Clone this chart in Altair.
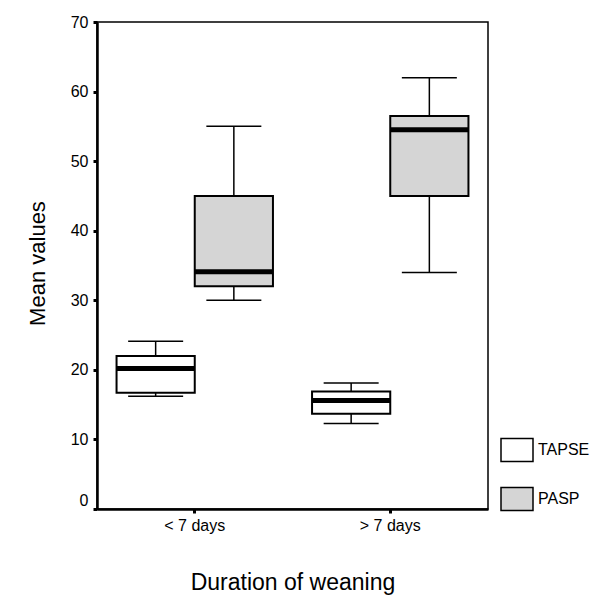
import altair as alt
import pandas as pd

groups = ["< 7 days", "< 7 days", "> 7 days", "> 7 days"]
series = ["TAPSE", "PASP", "TAPSE", "PASP"]
lower = [16.2, 30.0, 12.3, 34.0]
q1 = [16.7, 32.0, 13.7, 45.0]
median = [20.2, 34.1, 15.6, 54.5]
q3 = [22.0, 45.0, 16.9, 56.5]
upper = [24.1, 55.0, 18.1, 62.0]

group_order = ["< 7 days", "> 7 days"]
series_order = ["TAPSE", "PASP"]
fill_colors = ["#ffffff", "#d5d5d5"]
y_ticks = [0, 10, 20, 30, 40, 50, 60, 70]

df = pd.DataFrame({
    "group": groups, "series": series, "lower": lower, "q1": q1,
    "median": median, "q3": q3, "upper": upper,
})

FONT = "Liberation Sans"

x_enc = alt.X(
    "group:N",
    sort=group_order,
    scale=alt.Scale(domain=group_order, paddingInner=0, paddingOuter=0),
    axis=alt.Axis(
        title="Duration of weaning",
        labelAngle=0, labelFontSize=16, labelPadding=4, labelColor="black",
        tickSize=4, tickWidth=3, tickColor="black", bandPosition=0.5,
        domainColor="black", domainWidth=2.5,
        titleFontSize=23, titleFontWeight="normal", titleColor="black",
        titleY=80, titleBaseline="alphabetic",
    ),
)
xo_enc = alt.XOffset(
    "series:N",
    sort=series_order,
    scale=alt.Scale(domain=series_order, paddingInner=0, paddingOuter=0.25),
)
y_scale = alt.Scale(domain=[0, 70], nice=False, zero=True)
y_axis = alt.Axis(
    title="Mean values", values=y_ticks, grid=False,
    labelFontSize=16, labelPadding=5, labelColor="black",
    labelOffset={"condition": {"test": "datum.value == 0", "value": -9}, "value": 0},
    tickSize=4, tickWidth=3, tickColor="black",
    domainColor="black", domainWidth=2.5,
    titleFontSize=22, titleFontWeight="normal", titleColor="black",
    titleX=-60, titleY=241, titleAngle=-90, titleAlign="center", titleBaseline="middle",
)

base = alt.Chart(df)

whisker_low = base.mark_rule(color="black", strokeWidth=1.5).encode(
    x=x_enc, xOffset=xo_enc,
    y=alt.Y("lower:Q", scale=y_scale, axis=y_axis), y2="q1:Q",
)
whisker_high = base.mark_rule(color="black", strokeWidth=1.5).encode(
    x=x_enc, xOffset=xo_enc,
    y=alt.Y("q3:Q", scale=y_scale), y2="upper:Q",
)
boxes = base.mark_bar(stroke="black", strokeWidth=2, opacity=1).encode(
    x=x_enc, xOffset=xo_enc,
    y=alt.Y("q1:Q", scale=y_scale), y2="q3:Q",
    fill=alt.Fill(
        "series:N", sort=series_order,
        scale=alt.Scale(domain=series_order, range=fill_colors),
        legend=alt.Legend(
            title=None, orient="none", legendX=403, legendY=411,
            symbolType="M-1,-0.72H1V0.72H-1Z", symbolSize=1024,
            symbolStrokeColor="black", symbolStrokeWidth=1.5,
            labelFontSize=16, labelColor="black", labelOffset=4,
            rowPadding=17, padding=0,
        ),
    ),
)
cap_low = base.mark_tick(color="black", thickness=1.5, size=55, opacity=1).encode(
    x=x_enc, xOffset=xo_enc, y=alt.Y("lower:Q", scale=y_scale),
)
cap_high = base.mark_tick(color="black", thickness=1.5, size=55, opacity=1).encode(
    x=x_enc, xOffset=xo_enc, y=alt.Y("upper:Q", scale=y_scale),
)
med = base.mark_tick(color="black", thickness=5, size=78, opacity=1).encode(
    x=x_enc, xOffset=xo_enc, y=alt.Y("median:Q", scale=y_scale),
)

chart = alt.layer(whisker_low, whisker_high, boxes, cap_low, cap_high, med).properties(
    width=391, height=487,
    autosize=alt.AutoSizeParams(type="none"),
    padding={"left": 89, "top": 14, "right": 104, "bottom": 86},
).configure(
    font=FONT,
).configure_view(
    stroke="black", strokeWidth=1.5,
)

chart.save("out.html", embed_options={"renderer": "svg", "actions": False})
